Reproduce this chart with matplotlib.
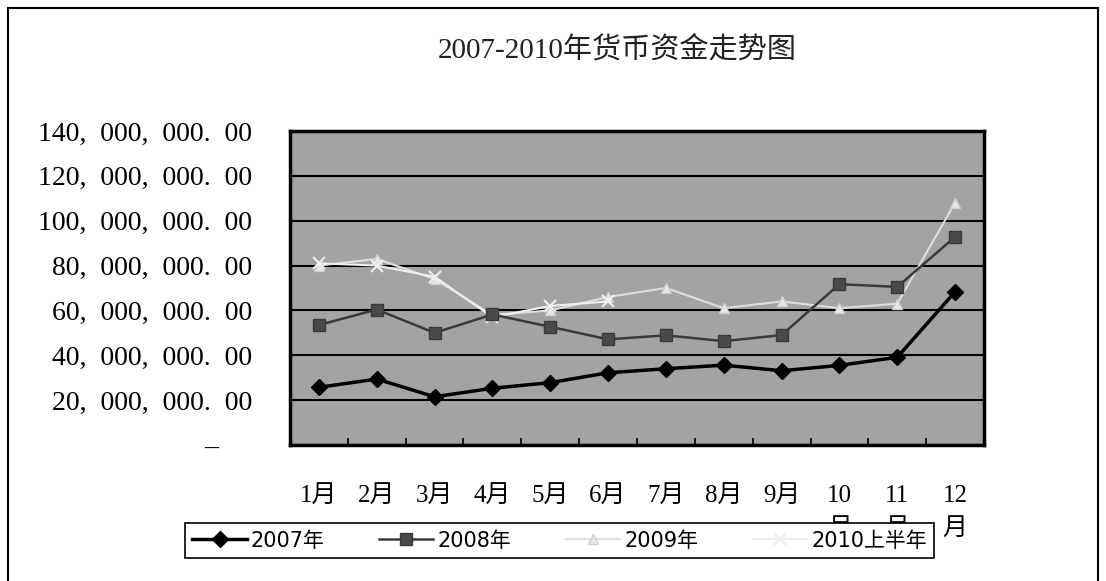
import matplotlib.pyplot as plt
from matplotlib.patches import Rectangle
from matplotlib.ticker import FuncFormatter, FixedLocator
import numpy as np

# datos (en millones de yuanes)
meses = ['1月', '2月', '3月', '4月', '5月', '6月', '7月', '8月', '9月',
         '10\n月', '11\n月', '12\n月']

y2007 = [25.7, 29.4, 21.5, 25.3, 27.8, 32.2, 34.0, 35.6, 33.1, 35.5, 39.1, 68.3]
y2008 = [53.5, 60.4, 50.0, 58.2, 52.7, 47.1, 48.9, 46.3, 49.0, 71.7, 70.5, 92.8]
y2009 = [80.0, 83.0, 74.0, 58.0, 60.0, 66.0, 70.0, 61.0, 64.0, 61.0, 63.0, 108.0]
y2010 = [81.0, 80.0, 75.0, 57.0, 62.0, 64.0]

series = ['2007年', '2008年', '2009年', '2010上半年']

plt.rcParams['font.family'] = ['Liberation Serif', 'Noto Sans CJK SC']

fig = plt.figure(figsize=(11.06, 5.81), dpi=100)
ax = fig.add_axes([0.2622, 0.2341, 0.6275, 0.5404])
ax.set_facecolor('#a3a3a3')

x = np.arange(len(meses))
x10 = np.arange(len(y2010))

ax.plot(x, np.array(y2009) * 1e6, color='#dedede', linewidth=1.5,
        marker='^', markersize=7, markerfacecolor='#e8e8e8',
        markeredgecolor='#cfcfcf', label=series[2], zorder=3)
ax.plot(x10, np.array(y2010) * 1e6, color='#efefef', linewidth=1.5,
        marker='x', markersize=8, markeredgewidth=1.5,
        label=series[3], zorder=3)
ax.plot(x, np.array(y2008) * 1e6, color='#3a3a3a', linewidth=1.8,
        marker='s', markersize=9, markerfacecolor='#4a4a4a',
        markeredgecolor='#3a3a3a', label=series[1], zorder=4)
ax.plot(x, np.array(y2007) * 1e6, color='black', linewidth=2.5,
        marker='D', markersize=8, label=series[0], zorder=5)

# ejes
ax.set_xlim(-0.5, len(meses) - 0.5)
ax.set_ylim(0, 140e6)
ax.set_yticks(np.arange(0, 140e6 + 1, 20e6))
ax.grid(axis='y', color='black', linewidth=1.5)
ax.set_axisbelow(True)


def fmt(v, pos):
    if v == 0:
        return '–\u2002\u2002 '
    s = f'{v:,.2f}'
    return s.replace(',', ',\u2002').replace('.', '.\u2002')


ax.yaxis.set_major_formatter(FuncFormatter(fmt))
ax.tick_params(axis='y', length=0, pad=27, labelsize=20)

# marcas entre categorias, etiquetas en el centro
ax.xaxis.set_major_locator(FixedLocator(np.arange(0.5, len(meses) - 0.5, 1)))
ax.xaxis.set_major_formatter(FuncFormatter(lambda v, p: ''))
ax.set_xticks(x, minor=True)
ax.set_xticklabels(meses, minor=True, fontsize=18, va='top', linespacing=1.6)
ax.tick_params(axis='x', which='major', direction='in', length=5, width=1.2)
ax.tick_params(axis='x', which='minor', length=0, pad=29)

for s in ax.spines.values():
    s.set_linewidth(2.5)
    s.set_color('black')

# titulo
fig.text(0.558, 0.915, '2007-2010年货币资金走势图', ha='center', va='center',
         fontsize=21, color='#222222')

# leyenda
handles, labels = ax.get_legend_handles_labels()
orden = [labels.index(n) for n in series]
leg = fig.legend([handles[i] for i in orden], [labels[i] for i in orden],
                 loc='lower left', bbox_to_anchor=(0.158, 0.022, 0.696, 0.078),
                 mode='expand', ncol=4, fancybox=False, framealpha=1,
                 edgecolor='black', handlelength=2.6, handletextpad=0.2,
                 borderpad=0.35, prop={'family': ['DejaVu Sans', 'Noto Sans CJK SC'],
                                       'size': 15})
leg.get_frame().set_linewidth(1.2)
leg.set_zorder(10)

# marco exterior
fig.patches.append(Rectangle((8 / 1106, -0.05), 1090 / 1106, 1.05 - 8 / 581,
                             transform=fig.transFigure, fill=False,
                             edgecolor='black', linewidth=1.5))

plt.savefig('out.png', dpi=100)
